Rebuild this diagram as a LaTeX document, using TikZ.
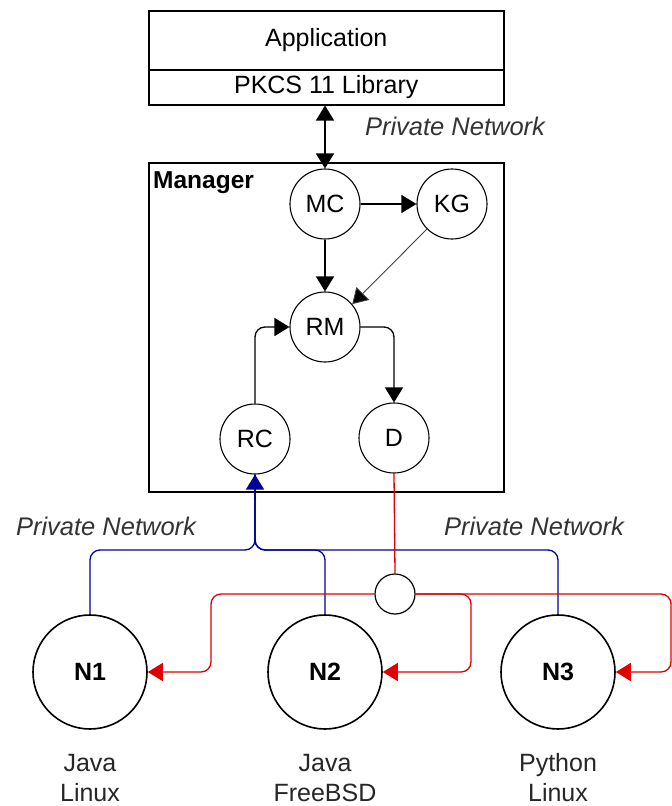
\documentclass[tikz,border=0pt]{standalone}
\usepackage{fontspec}
\setmainfont{Liberation Sans}
\usetikzlibrary{arrows.meta}
\definecolor{netblue}{RGB}{0,0,150}
\definecolor{netred}{RGB}{225,0,0}
\begin{document}
\begin{tikzpicture}[x=1pt,y=-1pt,
  txt/.style={font=\fontsize{25}{30}\selectfont,text=black!85},
  proc/.style={circle,draw,line width=1.1pt,minimum size=70pt,inner sep=0pt,font=\fontsize{25}{30}\selectfont},
  host/.style={circle,draw,line width=1.6pt,minimum size=114pt,inner sep=0pt,font=\bfseries\fontsize{25}{30}\selectfont},
  junc/.style={circle,draw,line width=1.2pt,minimum size=40pt,inner sep=0pt},
  boxstyle/.style={draw,line width=1.5pt,inner sep=0pt,font=\fontsize{25}{30}\selectfont},
  tip/.style={-{Triangle[length=15pt,width=18pt]}},
  dtip/.style={{Triangle[length=15pt,width=18pt]}-{Triangle[length=15pt,width=18pt]}},
  flow/.style={line width=1.3pt,black},
  bnet/.style={line width=1.3pt,netblue,rounded corners=10pt},
  rnet/.style={line width=1.3pt,netred,rounded corners=10pt},
  netlabel/.style={font=\itshape\fontsize{25.5}{30}\selectfont,text=black!80}
]
\useasboundingbox (0,0) rectangle (672,806);

% top boxes
\node[boxstyle,minimum width=355pt,minimum height=59pt,anchor=north west] (app) at (148,10) {Application};
\node[boxstyle,minimum width=355pt,minimum height=35pt,anchor=north west] (lib) at (148,69) {PKCS 11 Library};

% manager box
\node[draw,line width=1.5pt,minimum width=355pt,minimum height=329pt,anchor=north west,inner sep=0pt] (mgr) at (148,162) {};
\node[font=\bfseries\fontsize{24.5}{28}\selectfont,anchor=west,inner sep=0pt] (mgrlabel) at (153,183) {Manager};

% process nodes
\node[proc] (MC) at (325,204) {MC};
\node[proc] (KG) at (452,204) {KG};
\node[proc] (RM) at (325,327) {RM};
\node[proc] (RC) at (255,439) {RC};
\node[proc] (D) at (394,438) {D};

% host nodes
\node[host] (N1) at (90,672) {N1};
\node[host] (N2) at (325,672) {N2};
\node[host] (N3) at (558,672) {N3};
\node[junc] (J) at (395,594) {};

% host labels
\node[txt,align=center] (L1) at (90,778) {Java\\Linux};
\node[txt,align=center] (L2) at (325,778) {Java\\FreeBSD};
\node[txt,align=center] (L3) at (558,778) {Python\\Linux};

% network labels
\node[netlabel] (pn1) at (455,126) {Private Network};
\node[netlabel] (pn2) at (106,526) {Private Network};
\node[netlabel] (pn3) at (534,526) {Private Network};

% manager internal flows
\draw[flow,dtip] (MC.north |- lib.south) -- (MC.north);
\draw[flow,tip] (MC.east) -- (KG.west);
\draw[flow,tip] (MC.south) -- (RM.north);
\draw[line width=0.9pt,black!75,-{Triangle[length=15pt,width=18pt,fill=black]}] (KG.225) -- (RM.40);
\draw[flow,tip,rounded corners=10pt] (RC.north) |- (RM.west);
\draw[flow,tip,rounded corners=10pt] (RM.east) -| (D.north);

% blue network (nodes to RC)
\coordinate (bsplit) at (255,550);
\draw[bnet] (N1.north) |- (bsplit) -- (RC.south);
\draw[bnet] (N2.north) |- (bsplit) -- (RC.south);
\draw[bnet] (N3.north) |- (bsplit) -- (RC.south);
\draw[line width=1.3pt,netblue,-{Triangle[length=15pt,width=18pt]}] (255,500) -- (RC.south);

% red network (D to nodes)
\draw[rnet,rounded corners=0pt] (D.south) -- (J.north);
\coordinate (r1) at (211,594);
\coordinate (r2) at (471,594);
\coordinate (r3) at (671,594);
\draw[rnet,-{Triangle[length=15pt,width=18pt]}] (J.west) -- (r1) |- (N1.east);
\draw[rnet,-{Triangle[length=15pt,width=18pt]}] (J.east) -- (r2) |- (N2.east);
\draw[rnet,-{Triangle[length=15pt,width=18pt]}] (J.east) -- (r3) |- (N3.east);
\end{tikzpicture}
\end{document}
